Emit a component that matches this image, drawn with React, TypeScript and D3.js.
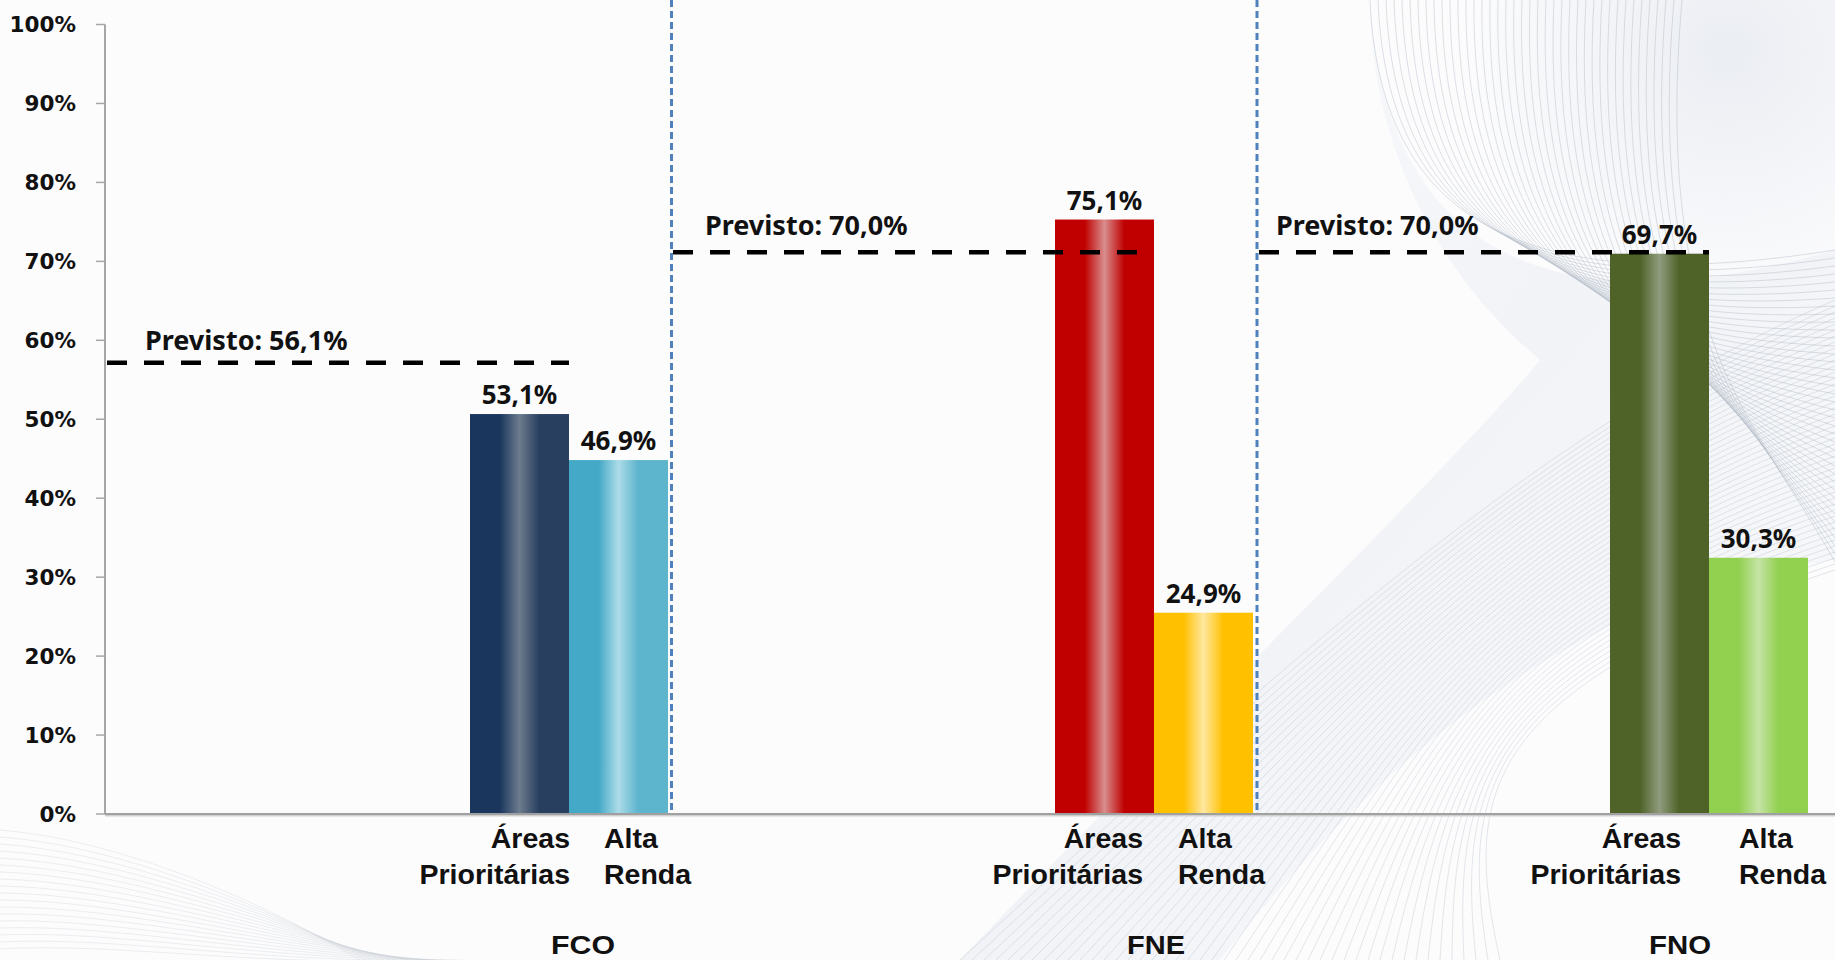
import React from 'react';
import * as d3 from 'd3';

// ---------- data ----------
const funds = ['FCO', 'FNE', 'FNO'];
const categories = ['Áreas Prioritárias', 'Alta Renda'];
const areasValues = [53.1, 75.1, 69.7];
const altaValues = [46.9, 24.9, 30.3];
const previstoValues = [56.1, 70.0, 70.0];
const yTicks = [0, 10, 20, 30, 40, 50, 60, 70, 80, 90, 100];

// ---------- layout / style ----------
const W = 1835;
const H = 960;
const axisX = 105;
const baseY = 814;
const topY = 24.5;
const groupCenters = [569, 1154, 1709];
const barWidth = 99;
const panelDomains: [number, number][] = [[-0.8, 105.6], [-0.8, 100], [-2.9, 99.4]];
const dividerX = [671.5, 1257];
const targetStartX = [107, 673, 1259];
const targetLabelDx = [38, 32, 17];
const targetLabelDy = [-13, -17, -17];
const areasLabelDx = [1, -11, -28];
const altaLabelDx = [35, 24, 30];
const fundLabelX = [583, 1156, 1680];
const fundLabelLen = [64, 58, 62];
const barColors = [
  [['#1a365d', '#6d7c8e', '#283f5f'], ['#44a9c6', '#acdce8', '#5cb4cd']],
  [['#c00000', '#d88e8e', '#c00000'], ['#ffc000', '#ffe8a0', '#ffc000']],
  [['#4f6228', '#909c7e', '#4f6228'], ['#92d050', '#c5e4a6', '#92d050']],
];

const yMain = d3.scaleLinear().domain([0, 100]).range([baseY, topY]);
const yTarget = d3.scaleLinear().domain([0, 100]).range([808.7, 13.7]);
const xInner = d3.scaleBand<string>().domain(categories).range([-barWidth, barWidth]).padding(0);

const calibriLike = "'Noto Sans', 'Open Sans', sans-serif";
const arialLike = "'Liberation Sans', Arial, sans-serif";

function Background() {
  const lines1 = d3.range(40).map((i) => {
    const p = d3.path();
    p.moveTo(1370 + i * 8, 0);
    p.bezierCurveTo(1380 + i * 7, 220 + i * 3, 1520 + i * 6, 300 + i * 3, W, 250 + i * 8);
    return p.toString();
  });
  const lines2 = d3.range(46).map((i) => {
    const p = d3.path();
    p.moveTo(W, 300 + i * 6);
    p.bezierCurveTo(1560 - i * 2, 420 + i * 6, 1330 + i * 3, 620 + i * 4, 960 + i * 12, H);
    return p.toString();
  });
  const lines3 = d3.range(18).map((i) => {
    const p = d3.path();
    p.moveTo(0, 830 + i * 7);
    p.bezierCurveTo(120, 840 + i * 6, 260, 900 + i * 4, 360 + i * 6, H);
    return p.toString();
  });
  return (
    <g>
      <defs>
        <linearGradient id="bgSweep" x1="0" y1="0" x2="1" y2="1">
          <stop offset="0" stopColor="#dfe4ec" stopOpacity="0.0" />
          <stop offset="0.5" stopColor="#dde2ea" stopOpacity="0.35" />
          <stop offset="1" stopColor="#e7ebf1" stopOpacity="0.15" />
        </linearGradient>
        <radialGradient id="bgTop" cx="0.8" cy="0.1" r="0.5">
          <stop offset="0" stopColor="#e3e7ee" stopOpacity="0.7" />
          <stop offset="1" stopColor="#e3e7ee" stopOpacity="0" />
        </radialGradient>
      </defs>
      <rect x={0} y={0} width={W} height={H} fill="#fcfcfd" />
      <rect x={1300} y={0} width={535} height={520} fill="url(#bgTop)" />
      <path
        d={`M1370,0 C1385,260 1560,330 ${W},250 L${W},560 C1560,600 1380,760 1220,${H} L960,${H} C1150,760 1450,470 1540,360 C1420,260 1370,120 1370,0 Z`}
        fill="url(#bgSweep)"
      />
      {lines1.map((d, i) => (
        <path key={'a' + i} d={d} fill="none" stroke="#aab3c1" strokeOpacity={0.4} strokeWidth={1} />
      ))}
      {lines2.map((d, i) => (
        <path key={'b' + i} d={d} fill="none" stroke="#aab3c1" strokeOpacity={0.32} strokeWidth={1} />
      ))}
      {lines3.map((d, i) => (
        <path key={'c' + i} d={d} fill="none" stroke="#c3c9d2" strokeOpacity={0.3} strokeWidth={1} />
      ))}
    </g>
  );
}

export default function App() {
  return (
    <svg
      width={W}
      height={H}
      viewBox={`0 0 ${W} ${H}`}
      style={{ position: 'absolute', left: 0, top: 0, display: 'block' }}
    >
      <defs>
        {barColors.map((pair, pi) =>
          pair.map((c, ci) => (
            <linearGradient key={`g${pi}${ci}`} id={`grad${pi}${ci}`} x1="0" y1="0" x2="1" y2="0">
              <stop offset="0" stopColor={c[0]} />
              <stop offset="0.3" stopColor={c[0]} />
              <stop offset="0.5" stopColor={c[1]} />
              <stop offset="0.7" stopColor={c[2]} />
              <stop offset="1" stopColor={c[2]} />
            </linearGradient>
          ))
        )}
      </defs>
      <Background />

      {/* y axis */}
      <line x1={axisX} x2={axisX} y1={yMain(100)} y2={baseY} stroke="#a6a6a6" strokeWidth={2} />
      {yTicks.map((t) => (
        <g key={t}>
          <line x1={axisX - 9} x2={axisX} y1={yMain(t)} y2={yMain(t)} stroke="#a6a6a6" strokeWidth={1.5} />
          <text
            x={76}
            y={yMain(t)}
            dy="0.36em"
            textAnchor="end"
            fontFamily="'DejaVu Sans', Verdana, sans-serif"
            fontWeight="bold"
            fontSize={21.5}
            fill="#111"
          >
            {t + '%'}
          </text>
        </g>
      ))}

      {/* dividers */}
      {dividerX.map((x, i) => (
        <line key={i} x1={x} x2={x} y1={0} y2={baseY} stroke="#4f81bd" strokeWidth={3} strokeDasharray="7,4" />
      ))}

      {/* bars */}
      {funds.map((f, pi) => {
        const yP = d3.scaleLinear().domain(panelDomains[pi]).range([baseY, topY]);
        const vals = [areasValues[pi], altaValues[pi]];
        return (
          <g key={f}>
            {categories.map((c, ci) => {
              const x = groupCenters[pi] + (xInner(c) as number);
              const y = yP(vals[ci]);
              return (
                <g key={c}>
                  <rect x={x} y={y} width={xInner.bandwidth()} height={baseY - y} fill={`url(#grad${pi}${ci})`} />
                  <text
                    x={x + xInner.bandwidth() / 2}
                    y={y - 10}
                    textAnchor="middle"
                    fontFamily={calibriLike}
                    fontWeight="bold"
                    fontSize={26}
                    fill="#111"
                  >
                    {vals[ci].toFixed(1).replace('.', ',') + '%'}
                  </text>
                </g>
              );
            })}
          </g>
        );
      })}

      {/* x axis */}
      <line x1={axisX} x2={W} y1={baseY + 1.5} y2={baseY + 1.5} stroke="#cfcfcf" strokeWidth={2} />
      <line x1={axisX} x2={W} y1={baseY} y2={baseY} stroke="#a0a0a0" strokeWidth={2} />

      {/* target lines */}
      {funds.map((f, pi) => {
        const y = yTarget(previstoValues[pi]);
        const x0 = targetStartX[pi];
        const x1 = groupCenters[pi];
        return (
          <g key={'t' + f}>
            <line x1={x0} x2={x1} y1={y} y2={y} stroke="#000" strokeWidth={4.5} strokeDasharray="20,17" />
            <text
              x={x0 + targetLabelDx[pi]}
              y={y + targetLabelDy[pi]}
              fontFamily={calibriLike}
              fontWeight="bold"
              fontSize={27}
              fill="#111"
            >
              {'Previsto: ' + previstoValues[pi].toFixed(1).replace('.', ',') + '%'}
            </text>
          </g>
        );
      })}

      {/* category labels */}
      {funds.map((f, pi) => {
        const areasRight = groupCenters[pi] + areasLabelDx[pi];
        const altaLeft = groupCenters[pi] + altaLabelDx[pi];
        const [a1, a2] = categories[0].split(' ');
        const [b1, b2] = categories[1].split(' ');
        return (
          <g key={'c' + f} fontFamily={arialLike} fontWeight="bold" fontSize={28.5} fill="#111">
            <text x={areasRight} y={848} textAnchor="end">{a1}</text>
            <text x={areasRight} y={884} textAnchor="end">{a2}</text>
            <text x={altaLeft} y={848} textAnchor="start">{b1}</text>
            <text x={altaLeft} y={884} textAnchor="start">{b2}</text>
            <text
              x={fundLabelX[pi] - fundLabelLen[pi] / 2}
              y={954}
              textAnchor="start"
              fontSize={26}
              textLength={fundLabelLen[pi]}
              lengthAdjust="spacingAndGlyphs"
            >
              {f}
            </text>
          </g>
        );
      })}
    </svg>
  );
}
